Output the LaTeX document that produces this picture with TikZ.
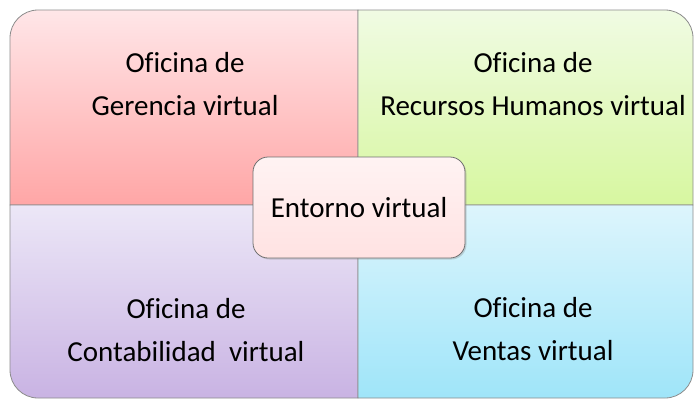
\documentclass[tikz,border=0pt]{standalone}
\usepackage{fontspec}
\setmainfont{Carlito}[Ligatures=CommonOff]
\usetikzlibrary{shadows,positioning}
\definecolor{redtop}{HTML}{FFE6E8}
\definecolor{redbot}{HTML}{FFA6A6}
\definecolor{greentop}{HTML}{F0FBE3}
\definecolor{greenbot}{HTML}{D7F7A0}
\definecolor{violettop}{HTML}{ECE7F7}
\definecolor{violetbot}{HTML}{C9B3E3}
\definecolor{bluetop}{HTML}{DDF5FC}
\definecolor{bluebot}{HTML}{9FE5F9}
\definecolor{midtop}{HTML}{FFF3F3}
\definecolor{midbot}{HTML}{FFE2E2}
\definecolor{edge}{HTML}{8C8C8C}

\begin{document}
\begin{tikzpicture}[x=1pt, y=-1pt,
quad/.style = {draw=edge, line width=0.8pt},
txt/.style = {align=center, inner sep=0pt, anchor=base,
              font=\fontsize{29}{43}\selectfont},
midbox/.style = {draw=edge!80!black, line width=0.8pt,
                 rounded corners=15pt,
                 minimum width=212pt, minimum height=101pt,
                 top color=midtop, bottom color=midbot,
                 drop shadow={shadow xshift=1.5pt, shadow yshift=-1.5pt,
                              opacity=0.3},
                 font=\fontsize{29}{43}\selectfont}
                ]
\useasboundingbox (0,0) rectangle (695,400);
%% four offices
\path[quad, top color=redtop, bottom color=redbot]
  (10,205) -- (10,38) arc[start angle=180, end angle=270, radius=28]
  -- (358,10) -- (358,205) -- cycle;
\path[quad, top color=greentop, bottom color=greenbot]
  (358,10) -- (665,10) arc[start angle=270, end angle=360, radius=28]
  -- (693,205) -- (358,205) -- cycle;
\path[quad, top color=violettop, bottom color=violetbot]
  (10,205) -- (358,205) -- (358,398) -- (38,398)
  arc[start angle=90, end angle=180, radius=28] -- cycle;
\path[quad, top color=bluetop, bottom color=bluebot]
  (358,205) -- (693,205) -- (693,370)
  arc[start angle=0, end angle=90, radius=28] -- (358,398) -- cycle;

\node (t1) [txt] at (185,115) {Oficina de\\Gerencia virtual};
\node (t2) [txt] at (533,115) {Oficina de\\Recursos Humanos virtual};
\node (t3) [txt] at (186,361) {Oficina de\\Contabilidad\ \ virtual};
\node (t4) [txt] at (533,360) {Oficina de\\Ventas virtual};
%% centre
\node (c) [midbox] at (359,207.5) {Entorno virtual};
\end{tikzpicture}
\end{document}
